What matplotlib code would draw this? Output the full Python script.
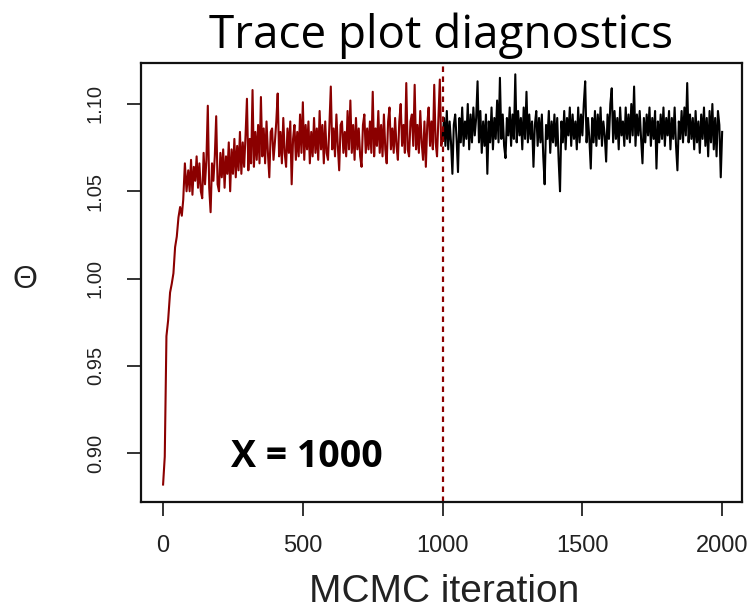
import matplotlib
matplotlib.use("Agg")
import matplotlib.pyplot as plt
import numpy as np

# burn-in climb, read at fine spacing
early_iter = [0, 6, 12, 18, 25, 31, 37, 43, 49, 55, 61, 67, 72, 78, 84]
early_theta = [0.882, 0.898, 0.967, 0.976, 0.992, 0.997, 1.003, 1.018,
               1.024, 1.035, 1.041, 1.036, 1.045, 1.066, 1.050]

# iterations 90, 95, ..., 1000 (red part), one row = 50 iterations
theta_red = [
    1.062, 1.050, 1.068, 1.048, 1.064, 1.056, 1.070, 1.052, 1.066, 1.050,
    1.046, 1.072, 1.054, 1.068, 1.099, 1.052, 1.038, 1.066, 1.056, 1.070,
    1.093, 1.054, 1.050, 1.072, 1.058, 1.074, 1.052, 1.070, 1.060, 1.078,
    1.050, 1.074, 1.060, 1.080, 1.058, 1.076, 1.062, 1.084, 1.060, 1.078,
    1.064, 1.082, 1.103, 1.062, 1.080, 1.066, 1.108, 1.064, 1.084, 1.068,
    1.088, 1.066, 1.104, 1.070, 1.086, 1.066, 1.090, 1.072, 1.058, 1.084,
    1.086, 1.068, 1.078, 1.090, 1.106, 1.070, 1.084, 1.066, 1.092, 1.072,
    1.064, 1.086, 1.072, 1.090, 1.054, 1.080, 1.088, 1.068, 1.084, 1.070,
    1.094, 1.072, 1.101, 1.068, 1.088, 1.074, 1.090, 1.066, 1.084, 1.070,
    1.092, 1.072, 1.086, 1.068, 1.096, 1.074, 1.088, 1.066, 1.090, 1.072,
    1.068, 1.088, 1.110, 1.074, 1.086, 1.070, 1.094, 1.076, 1.062, 1.088,
    1.090, 1.072, 1.084, 1.070, 1.096, 1.074, 1.102, 1.072, 1.088, 1.068,
    1.092, 1.074, 1.086, 1.070, 1.064, 1.088, 1.094, 1.072, 1.086, 1.074,
    1.090, 1.072, 1.107, 1.070, 1.086, 1.076, 1.096, 1.072, 1.088, 1.070,
    1.094, 1.074, 1.066, 1.090, 1.098, 1.074, 1.086, 1.072, 1.092, 1.076,
    1.068, 1.090, 1.100, 1.076, 1.088, 1.072, 1.112, 1.074, 1.070, 1.090,
    1.094, 1.076, 1.111, 1.074, 1.088, 1.072, 1.096, 1.078, 1.068, 1.090,
    1.064, 1.088, 1.098, 1.076, 1.090, 1.074, 1.111, 1.078, 1.070, 1.092,
    1.114, 1.076, 1.080,
]

# iterations 1005, 1010, ..., 2000 (black part)
theta_black = [
    1.092, 1.076, 1.096, 1.074, 1.090, 1.078, 1.060, 1.088, 1.094, 1.080,
    1.061, 1.092, 1.078, 1.098, 1.076, 1.090, 1.080, 1.100, 1.074, 1.094,
    1.078, 1.098, 1.082, 1.092, 1.113, 1.078, 1.096, 1.072, 1.090, 1.076,
    1.094, 1.060, 1.090, 1.078, 1.098, 1.074, 1.092, 1.080, 1.102, 1.078,
    1.115, 1.080, 1.094, 1.076, 1.069, 1.092, 1.082, 1.098, 1.076, 1.094,
    1.080, 1.117, 1.078, 1.096, 1.082, 1.092, 1.074, 1.098, 1.080, 1.107,
    1.078, 1.094, 1.080, 1.090, 1.064, 1.088, 1.096, 1.076, 1.092, 1.078,
    1.094, 1.070, 1.054, 1.088, 1.080, 1.096, 1.072, 1.090, 1.078, 1.094,
    1.076, 1.092, 1.068, 1.050, 1.090, 1.078, 1.096, 1.074, 1.092, 1.082,
    1.098, 1.076, 1.094, 1.080, 1.090, 1.074, 1.098, 1.078, 1.094, 1.082,
    1.100, 1.113, 1.078, 1.092, 1.080, 1.063, 1.092, 1.078, 1.096, 1.076,
    1.094, 1.080, 1.098, 1.076, 1.090, 1.082, 1.067, 1.094, 1.080, 1.100,
    1.109, 1.078, 1.096, 1.080, 1.092, 1.074, 1.098, 1.082, 1.090, 1.076,
    1.098, 1.080, 1.094, 1.078, 1.100, 1.082, 1.110, 1.076, 1.094, 1.082,
    1.096, 1.080, 1.066, 1.092, 1.078, 1.094, 1.082, 1.098, 1.076, 1.092,
    1.080, 1.096, 1.063, 1.090, 1.078, 1.094, 1.080, 1.098, 1.076, 1.092,
    1.082, 1.096, 1.074, 1.092, 1.080, 1.098, 1.076, 1.062, 1.090, 1.080,
    1.096, 1.078, 1.098, 1.082, 1.112, 1.078, 1.094, 1.080, 1.092, 1.074,
    1.096, 1.078, 1.090, 1.072, 1.094, 1.080, 1.098, 1.076, 1.092, 1.070,
    1.096, 1.078, 1.100, 1.074, 1.092, 1.070, 1.096, 1.088, 1.058, 1.084,
]

burn_in = 1000
x_ticks = [0, 500, 1000, 1500, 2000]
y_ticks = [0.90, 0.95, 1.00, 1.05, 1.10]

iters = np.concatenate([early_iter, np.arange(90, 2001, 5)])
theta = np.array(early_theta + theta_red + theta_black)

fig = plt.figure(figsize=(7.53, 6.09), dpi=100)
ax = fig.add_axes([0.18725, 0.1757, 0.79814, 0.7209])

red = iters <= burn_in
black = iters >= burn_in
ax.plot(iters[red], theta[red], color="#8b0000", lw=1.5)
ax.plot(iters[black], theta[black], color="black", lw=1.5)
ax.axvline(burn_in, color="#8b0000", lw=1.6, linestyle=(0, (2.5, 2)))

ax.set_xlim(-79, 2071)
ax.set_ylim(0.872, 1.1235)
ax.set_xticks(x_ticks)
ax.set_xticklabels([str(t) for t in x_ticks], family="Liberation Sans", fontsize=17)
ax.set_yticks(y_ticks)
ax.set_yticklabels(["%.2f" % t for t in y_ticks], family="Liberation Sans",
                   fontsize=14.5, rotation=90, va="center")
ax.tick_params(axis="x", length=10, width=1.3, pad=14, colors="#222222")
ax.tick_params(axis="y", length=10, width=1.3, pad=16, colors="#222222")
for s in ax.spines.values():
    s.set_linewidth(1.6)
    s.set_color("#111111")

ax.text(0.276, 0.1025, "X = 1000", transform=ax.transAxes, ha="center",
        va="center", fontsize=27, fontweight="bold", family="Open Sans")

fig.text(441 / 753, 1 - 48 / 609, "Trace plot diagnostics", ha="center",
         va="baseline", fontsize=33, family="Open Sans")
fig.text(0.5 + 0.09, 1 - 592 / 609, "MCMC iteration", ha="center",
         va="center", fontsize=28, family="Liberation Sans", color="#222222")
fig.text(25 / 753, 1 - 280 / 609, "\u0398", ha="center", va="center",
         fontsize=23, family="Liberation Sans", color="#222222")

fig.savefig("out.png", dpi=100)
